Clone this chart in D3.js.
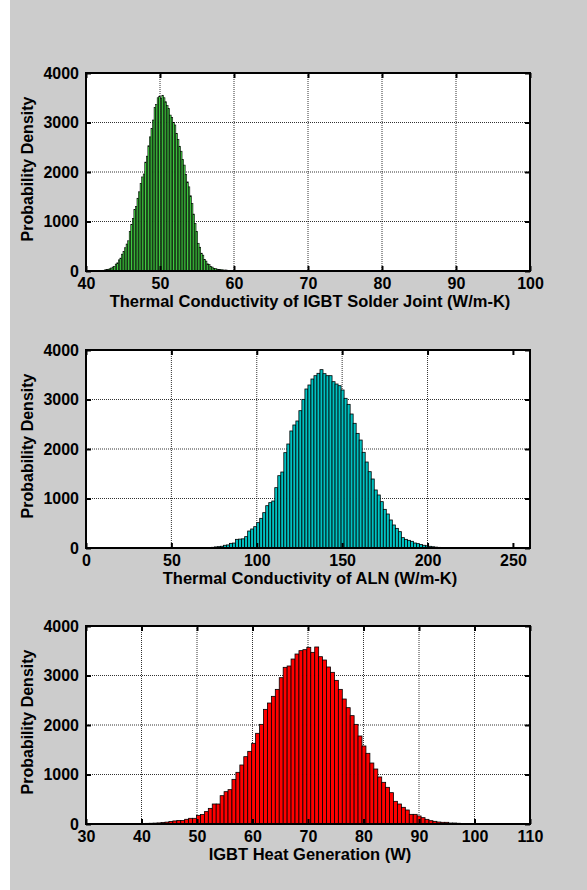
<!DOCTYPE html>
<html>
<head>
<meta charset="utf-8">
<script src="https://cdn.jsdelivr.net/npm/d3@7/dist/d3.min.js"></script>
<style>
  body { margin: 0; background: #fff; }
  text { font-family: "Liberation Sans", Arial, sans-serif; font-weight: bold; }
</style>
</head>
<body>
<div id="chart"></div>
<script>
// histogram counts, 100 bins each
const solderStart = 40.8;
const solderWidth = 0.21;
const solderCounts = [
  8, 5, 6, 7, 9, 8, 12, 15, 22, 30,
  35, 45, 60, 80, 95, 140, 165, 225, 260, 340,
  390, 470, 545, 610, 800, 940, 1060, 1240, 1300, 1470,
  1600, 1770, 1900, 1960, 2200, 2320, 2530, 2710, 2880, 3050,
  3300, 3360, 3500, 3530, 3490, 3550, 3500, 3420, 3340, 3280,
  3150, 3100, 3000, 2950, 2780, 2660, 2520, 2420, 2250, 2140,
  1950, 1800, 1700, 1520, 1360, 1150, 960, 800, 560, 480,
  360, 320, 230, 200, 145, 130, 90, 80, 55, 50,
  38, 34, 30, 25, 22, 18, 20, 14, 12, 10,
  9, 8, 8, 6, 5, 5, 4, 3, 3, 2
];

const alnStart = 52.3;
const alnWidth = 1.765;
const alnCounts = [
  3, 0, 1, 2, 0, 3, 2, 4, 5, 6,
  8, 10, 14, 22, 27, 35, 55, 62, 94, 100,
  175, 180, 185, 229, 343, 384, 431, 512, 599, 714,
  855, 916, 949, 1219, 1461, 1535, 1926, 2101, 2364, 2485,
  2566, 2774, 3003, 3212, 3293, 3414, 3481, 3529, 3603, 3522,
  3481, 3481, 3360, 3313, 3279, 3192, 3024, 2902, 2707, 2519,
  2316, 2181, 1933, 1737, 1542, 1394, 1172, 1071, 936, 781,
  687, 566, 465, 397, 330, 209, 175, 155, 135, 101,
  88, 70, 55, 45, 34, 25, 18, 13, 10, 8,
  6, 5, 4, 3, 3, 2, 2, 1, 1, 1
];

const heatStart = 35.0;
const heatWidth = 0.71;
const heatCounts = [
  3, 4, 5, 6, 8, 8, 10, 12, 13, 15,
  18, 22, 30, 38, 50, 62, 70, 70, 95, 115,
  115, 175, 190, 250, 316, 404, 404, 572, 653, 694,
  902, 1044, 1192, 1360, 1468, 1630, 1832, 2013, 2316, 2444,
  2579, 2720, 2956, 3165, 3192, 3333, 3434, 3502, 3522, 3569,
  3468, 3576, 3380, 3313, 3172, 3064, 2902, 2720, 2525, 2350,
  2189, 2013, 1778, 1576, 1428, 1232, 1111, 950, 842, 741,
  633, 458, 404, 337, 283, 195, 195, 162, 128, 94,
  67, 54, 40, 34, 34, 20, 20, 15, 12, 10,
  9, 8, 6, 5, 5, 4, 3, 3, 2, 2
];

const yTicks = [0, 1000, 2000, 3000, 4000];
const solderTicks = [40, 50, 60, 70, 80, 90, 100];
const alnTicks = [0, 50, 100, 150, 200, 250];
const heatTicks = [30, 40, 50, 60, 70, 80, 90, 100, 110];

const panels = [
  { top: 73, domain: [40, 100], ticks: solderTicks, start: solderStart, bw: solderWidth,
    counts: solderCounts, fill: "#44d844", edge: 0.6, label: "Thermal Conductivity of IGBT Solder Joint (W/m-K)" },
  { top: 350, domain: [0, 260], ticks: alnTicks, start: alnStart, bw: alnWidth,
    counts: alnCounts, fill: "#00c2c2", edge: 0.8, label: "Thermal Conductivity of ALN (W/m-K)" },
  { top: 626, domain: [30, 110], ticks: heatTicks, start: heatStart, bw: heatWidth,
    counts: heatCounts, fill: "#ff0000", edge: 0.8, label: "IGBT Heat Generation (W)" }
];

const W = 587, H = 890;
const left = 86, width = 444, height = 198;

const svg = d3.select("#chart").append("svg")
  .attr("width", W)
  .attr("height", H);

svg.append("rect")
  .attr("x", 10).attr("y", 0)
  .attr("width", W - 10).attr("height", H)
  .attr("fill", "#cccccc");

panels.forEach((p) => {
  const g = svg.append("g").attr("transform", `translate(${left},${p.top})`);

  const x = d3.scaleLinear().domain(p.domain).range([0, width]);
  const y = d3.scaleLinear().domain([0, 4000]).range([height, 0]);

  g.append("rect")
    .attr("width", width).attr("height", height)
    .attr("fill", "#fff");

  // dotted grid
  g.selectAll(".vgrid")
    .data(p.ticks.slice(1, -1))
    .enter().append("line")
    .attr("x1", (d) => x(d)).attr("x2", (d) => x(d))
    .attr("y1", 0).attr("y2", height)
    .attr("stroke", "#000").attr("stroke-width", 1)
    .attr("stroke-dasharray", "1,1").attr("opacity", 0.8);

  g.selectAll(".hgrid")
    .data(yTicks.slice(1, -1))
    .enter().append("line")
    .attr("x1", 0).attr("x2", width)
    .attr("y1", (d) => y(d)).attr("y2", (d) => y(d))
    .attr("stroke", "#000").attr("stroke-width", 1)
    .attr("stroke-dasharray", "1,1").attr("opacity", 0.8);

  // bars
  g.selectAll(".bar")
    .data(p.counts)
    .enter().append("rect")
    .attr("x", (d, i) => x(p.start + i * p.bw))
    .attr("width", x(p.start + p.bw) - x(p.start))
    .attr("y", (d) => y(d))
    .attr("height", (d) => height - y(d))
    .attr("fill", p.fill)
    .attr("stroke", "#000")
    .attr("stroke-width", p.edge);

  // axes with inward ticks
  g.append("g")
    .attr("transform", `translate(0,${height})`)
    .call(d3.axisBottom(x).tickValues(p.ticks).tickSize(-5).tickPadding(7));
  g.append("g")
    .call(d3.axisLeft(y).tickValues(yTicks).tickFormat(d3.format("d")).tickSize(-5).tickPadding(7));
  g.append("g")
    .call(d3.axisTop(x).tickValues(p.ticks).tickSize(-5).tickFormat(""));
  g.append("g")
    .attr("transform", `translate(${width},0)`)
    .call(d3.axisRight(y).tickValues(yTicks).tickSize(-5).tickFormat(""));

  g.selectAll(".domain").remove();
  g.selectAll(".tick line").attr("stroke", "#000").attr("stroke-width", 2);
  g.selectAll(".tick text")
    .attr("fill", "#000")
    .style("font-size", "16px")
    .style("font-family", "'Liberation Sans', Arial, sans-serif")
    .style("font-weight", "bold");

  g.append("rect")
    .attr("width", width).attr("height", height)
    .attr("fill", "none")
    .attr("stroke", "#000")
    .attr("stroke-width", 2);

  g.append("text")
    .attr("x", width / 2 + 2)
    .attr("y", height + 36)
    .attr("text-anchor", "middle")
    .style("font-size", "16.5px")
    .text(p.label);

  g.append("text")
    .attr("transform", `translate(${33 - left},${height / 2 - 3}) rotate(-90)`)
    .attr("text-anchor", "middle")
    .style("font-size", "16px")
    .text("Probability Density");
});
</script>
</body>
</html>
